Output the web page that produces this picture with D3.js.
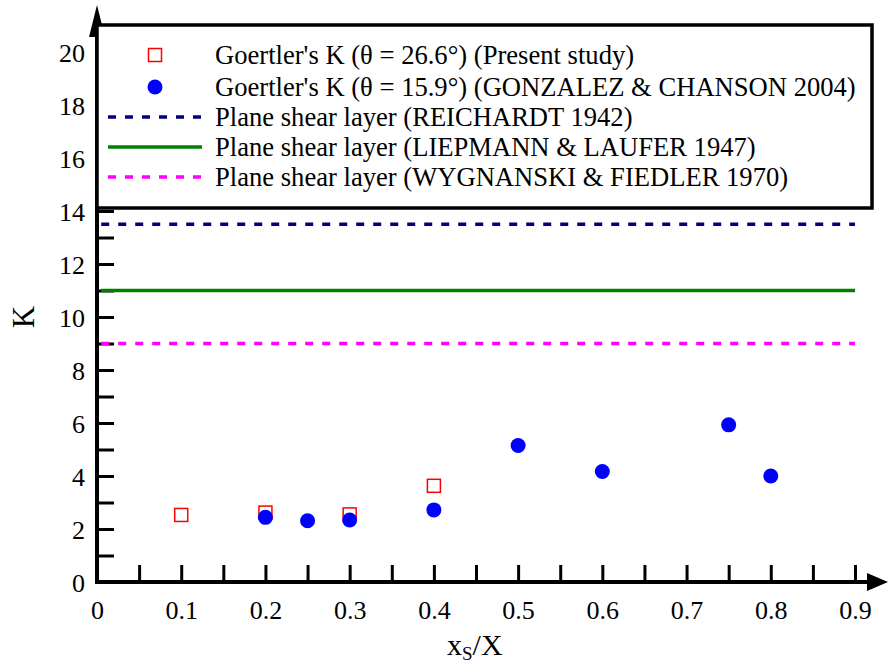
<!DOCTYPE html>
<html><head><meta charset="utf-8">
<script src="https://cdn.jsdelivr.net/npm/d3@7"></script>
<style>body{margin:0;background:#fff}svg{display:block;font-family:"Liberation Serif","Times New Roman",serif}</style>
</head><body>
<svg id="c" width="888" height="666"></svg>
<script>
// ---- data ----
const presentX = [0.1, 0.2, 0.3, 0.4];
const presentK = [2.53, 2.62, 2.55, 3.63];
const gonzalezX = [0.2, 0.25, 0.3, 0.4, 0.5, 0.6, 0.75, 0.8];
const gonzalezK = [2.44, 2.31, 2.34, 2.72, 5.15, 4.17, 5.93, 4.0];
const refNames = ["Plane shear layer (REICHARDT 1942)", "Plane shear layer (LIEPMANN & LAUFER 1947)", "Plane shear layer (WYGNANSKI & FIEDLER 1970)"];
const refK = [13.5, 11, 9];
const refColors = ["#000080", "#008000", "#ff00ff"];
const refDash = ["8,9", null, "8,9"];
const seriesNames = ["Goertler's K (\u03b8 = 26.6\u00b0) (Present study)", "Goertler's K (\u03b8 = 15.9\u00b0) (GONZALEZ & CHANSON 2004)"];
const xTicks = [0,0.05,0.1,0.15,0.2,0.25,0.3,0.35,0.4,0.45,0.5,0.55,0.6,0.65,0.7,0.75,0.8,0.85,0.9];
const yTicks = d3.range(0, 21, 1);

const svg = d3.select("#c");
const x = d3.scaleLinear().domain([0, 0.9]).range([97, 855]);
const y = d3.scaleLinear().domain([0, 20]).range([582, 52]);

// axes
const xAxis = d3.axisBottom(x).tickValues(xTicks).tickSizeInner(-17).tickSizeOuter(0).tickPadding(19)
  .tickFormat(d => (Math.round(d*100) % 10 === 0) ? (d === 0 ? "0" : d3.format(".1f")(d)) : "");
const gx = svg.append("g").attr("transform", `translate(0,${y(0)})`).call(xAxis);
const yAxis = d3.axisLeft(y).tickValues(yTicks).tickSizeInner(-17).tickSizeOuter(0).tickPadding(12)
  .tickFormat(d => d % 2 === 0 ? d : "");
const gy = svg.append("g").attr("transform", `translate(${x(0)},0)`).call(yAxis);
[gx, gy].forEach(g => {
  g.select(".domain").remove();
  g.selectAll(".tick line").attr("stroke", "#000").attr("stroke-width", 3);
  g.selectAll(".tick text").attr("fill", "#000").attr("font-size", 26).attr("font-family", "Liberation Serif");
});
gy.selectAll(".tick text").attr("dy", "0.35em");

// axis lines with arrows
svg.append("line").attr("x1", x(0)).attr("x2", 870).attr("y1", y(0)).attr("y2", y(0)).attr("stroke", "#000").attr("stroke-width", 4);
svg.append("path").attr("d", `M888,${y(0)} L867,${y(0)-9} L867,${y(0)+9} Z`).attr("fill", "#000");
svg.append("line").attr("x1", x(0)).attr("x2", x(0)).attr("y1", y(0)+2).attr("y2", 30).attr("stroke", "#000").attr("stroke-width", 4);
svg.append("path").attr("d", `M${x(0)},5 L${x(0)-8},37 L${x(0)+8},37 Z`).attr("fill", "#000");

// reference lines
refK.forEach((k, i) => {
  svg.append("line").attr("x1", x(0.005)).attr("x2", x(0.9)).attr("y1", y(k)).attr("y2", y(k))
    .attr("stroke", refColors[i]).attr("stroke-width", 3.5).attr("stroke-dasharray", refDash[i]);
});

// points
svg.append("g").selectAll("rect").data(presentX).join("rect")
  .attr("x", (d) => x(d) - 6.5).attr("y", (d, i) => y(presentK[i]) - 6.5).attr("width", 13).attr("height", 13)
  .attr("fill", "none").attr("stroke", "#ff0000").attr("stroke-width", 1.5);
svg.append("g").selectAll("circle").data(gonzalezX).join("circle")
  .attr("cx", d => x(d)).attr("cy", (d, i) => y(gonzalezK[i])).attr("r", 7.5).attr("fill", "#0000ff");

// legend
const lg = svg.append("g");
lg.append("rect").attr("x", 97).attr("y", 25).attr("width", 775).attr("height", 183)
  .attr("fill", "#fff").attr("stroke", "#000").attr("stroke-width", 3.5);
const rowY = [55, 87, 117, 147, 177];
const labels = seriesNames.concat(refNames);
labels.forEach((t, i) => {
  lg.append("text").attr("x", 215).attr("y", rowY[i]).attr("dy", "0.35em").attr("font-size", 26.6).attr("fill", "#000").text(t);
});
lg.append("rect").attr("x", 155 - 6.5).attr("y", rowY[0] - 6.5).attr("width", 13).attr("height", 13)
  .attr("fill", "none").attr("stroke", "#ff0000").attr("stroke-width", 1.5);
lg.append("circle").attr("cx", 155).attr("cy", rowY[1]).attr("r", 7.5).attr("fill", "#0000ff");
refK.forEach((k, i) => {
  lg.append("line").attr("x1", 108).attr("x2", 202).attr("y1", rowY[i+2]).attr("y2", rowY[i+2])
    .attr("stroke", refColors[i]).attr("stroke-width", 3.5).attr("stroke-dasharray", refDash[i]);
});

// axis titles
const xt = svg.append("text").attr("x", 447).attr("y", 655).attr("font-size", 30).attr("fill", "#000");
xt.append("tspan").text("x");
xt.append("tspan").attr("font-size", 19).attr("dy", 5).text("S");
xt.append("tspan").attr("dy", -5).text("/X");
svg.append("text").attr("transform", "translate(34,317) rotate(-90)").attr("text-anchor", "middle")
  .attr("font-size", 31).attr("fill", "#000").text("K");
</script>
</body></html>
